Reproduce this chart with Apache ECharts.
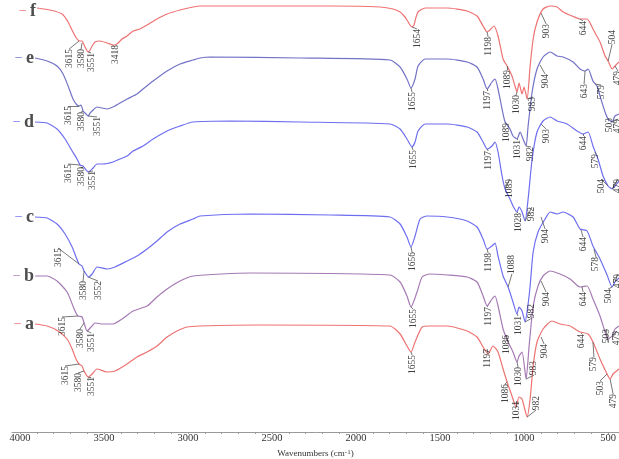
<!DOCTYPE html>
<html><head><meta charset="utf-8">
<script src="https://cdn.jsdelivr.net/npm/echarts@6/dist/echarts.min.js"></script>
<style>html,body{margin:0;padding:0;background:#fff}#chart{width:619px;height:459px}</style>
</head><body><div id="chart"></div>
<script>
// x: wavenumber (cm-1); y: transmittance (arbitrary units, traces offset)
const xTickLabels = [4000, 3500, 3000, 2500, 2000, 1500, 1000, 500];
const traceNames = ['a', 'b', 'c', 'd', 'e', 'f'];

const traceA = [[3911,108],[3839,106],[3774,101],[3720,93],[3690,83],[3667,73],[3649,68],[3631,66],[3619,61],[3595,55],[3571,58],[3542,63],[3482,60],[3435,61],[3363,68],[3304,75],[3244,80],[3185,86],[3125,95],[3066,101],[3006,105],[2929,106],[2572,107],[1798,106],[1738,98],[1697,86],[1673,80],[1649,90],[1607,105],[1560,106],[1458,106],[1339,101],[1280,95],[1244,85],[1214,78],[1185,86],[1155,80],[1125,63],[1101,50],[1072,36],[1048,25],[1030,35],[1012,33],[982,15],[964,33],[946,66],[923,90],[887,103],[834,111],[786,108],[726,106],[667,100],[619,98],[590,90],[548,73],[506,58],[488,53],[470,58],[435,63]];
const traceB = [[3911,156],[3839,156],[3780,151],[3720,140],[3685,126],[3667,119],[3655,116],[3631,115],[3619,109],[3601,101],[3577,105],[3554,109],[3506,108],[3446,108],[3393,113],[3327,121],[3244,126],[3185,135],[3125,143],[3048,151],[2970,156],[2631,159],[1798,157],[1738,150],[1697,136],[1673,125],[1637,140],[1607,155],[1560,158],[1458,157],[1339,155],[1280,150],[1244,136],[1220,126],[1191,133],[1173,136],[1155,126],[1125,103],[1095,90],[1066,80],[1042,70],[1030,76],[1012,80],[988,53],[970,86],[946,126],[917,146],[887,156],[845,161],[786,158],[726,153],[667,145],[625,146],[590,133],[548,116],[518,100],[500,93],[476,96],[459,103],[435,106]];
const traceC = [[3911,215],[3839,214],[3780,208],[3732,198],[3690,185],[3667,175],[3649,168],[3631,166],[3619,161],[3607,158],[3595,155],[3571,158],[3542,165],[3482,163],[3435,165],[3363,171],[3304,176],[3244,183],[3185,191],[3125,200],[3048,208],[2970,213],[2929,216],[2631,218],[2155,217],[1798,215],[1738,208],[1697,195],[1673,185],[1649,196],[1619,213],[1577,216],[1458,215],[1339,211],[1280,205],[1244,193],[1220,183],[1191,186],[1173,189],[1155,176],[1125,156],[1095,145],[1066,130],[1042,118],[1030,125],[1012,121],[994,110],[976,128],[964,146],[946,180],[917,200],[875,213],[845,220],[804,218],[768,220],[708,215],[667,203],[625,201],[590,186],[548,173],[506,157],[476,145],[459,150],[435,154]];
const traceD = [[3911,310],[3839,309],[3780,303],[3732,293],[3690,281],[3661,273],[3643,267],[3625,266],[3607,262],[3595,260],[3571,263],[3542,268],[3506,268],[3446,270],[3405,273],[3363,276],[3327,281],[3268,286],[3208,293],[3125,301],[3048,306],[2970,310],[2750,311],[2333,310],[1798,308],[1738,303],[1697,293],[1667,285],[1649,290],[1631,301],[1589,308],[1458,308],[1339,305],[1280,300],[1244,290],[1220,283],[1191,286],[1173,290],[1155,280],[1131,256],[1113,243],[1084,233],[1066,226],[1042,220],[1030,225],[1012,220],[994,211],[976,233],[952,273],[923,300],[887,311],[845,315],[804,311],[744,308],[685,301],[649,298],[619,300],[590,286],[560,273],[530,256],[500,246],[476,243],[459,246],[435,251]];
const traceE = [[3911,374],[3839,371],[3780,366],[3744,358],[3714,346],[3685,333],[3661,327],[3649,326],[3637,327],[3625,321],[3607,318],[3595,316],[3583,319],[3571,321],[3542,325],[3512,324],[3482,323],[3435,326],[3363,333],[3304,338],[3268,343],[3208,351],[3125,361],[3048,368],[2970,372],[2929,374],[2869,375],[2333,374],[1798,372],[1738,365],[1697,353],[1673,344],[1649,353],[1631,366],[1589,373],[1458,373],[1339,370],[1280,365],[1244,353],[1220,343],[1191,350],[1173,353],[1155,343],[1131,323],[1113,310],[1084,303],[1066,296],[1042,293],[1024,300],[1006,293],[988,286],[976,306],[952,340],[923,363],[887,375],[845,380],[804,376],[768,375],[708,370],[667,363],[637,361],[619,363],[590,351],[566,346],[548,336],[518,320],[500,313],[476,310],[459,316],[435,318]];
const traceF = [[3899,424],[3821,422],[3750,418],[3714,410],[3685,400],[3661,393],[3643,391],[3631,391],[3619,387],[3607,383],[3595,380],[3583,382],[3571,386],[3554,390],[3524,391],[3482,389],[3446,387],[3435,387],[3417,389],[3393,393],[3363,396],[3327,401],[3286,403],[3244,407],[3185,413],[3125,418],[3048,422],[2970,425],[2929,426],[2631,426],[2155,426],[1857,425],[1780,423],[1738,420],[1714,416],[1697,412],[1679,407],[1667,405],[1655,407],[1643,415],[1631,420],[1589,424],[1458,424],[1339,421],[1280,416],[1244,406],[1220,400],[1203,402],[1179,406],[1155,396],[1125,373],[1101,366],[1072,356],[1054,346],[1042,340],[1030,349],[1012,338],[1000,345],[982,333],[964,366],[946,393],[923,410],[887,423],[845,426],[804,425],[768,420],[714,416],[667,413],[625,413],[607,409],[590,403],[548,390],[518,376],[500,371],[476,363],[459,366],[435,370]];

// peak annotations: [label, peak wavenumber, peak value, label wavenumber, label top value]
const peaksA = [['3615',3649,68,3732,66],['3580',3619,61,3655,59],['3551',3595,55,3577,55],['1655',1673,80,1667,77],['1197',1214,78,1220,83],['1086',1101,50,1113,48],['1031',1048,25,1048,31],['982',982,15,929,36],['904',899,95,881,88],['644',655,99,661,98],['579',590,90,584,75],['503',506,58,548,51],['479',488,53,470,38]];
const peaksB = [['3615',3655,116,3750,115],['3580',3619,109,3643,103],['3551',3601,101,3577,99],['1655',1673,125,1661,123],['1197',1220,126,1214,125],['1086',1095,90,1107,97],['1030',1042,70,1036,65],['983',988,53,941,71],['904',899,151,869,140],['644',655,145,649,140],['503',500,90,512,103],['479',476,96,447,101]];
const peaksC = [['3615',3649,168,3774,184],['3580',3619,161,3625,151],['3552',3595,155,3536,151],['1656',1673,185,1667,180],['1198',1220,183,1214,179],['1088',1095,145,1072,177],['1031',1042,118,1036,116],['982',994,110,953,128],['904',899,215,875,203],['644',661,202,649,195],['578',584,183,572,175],['504',476,145,500,143],['479',459,150,441,158]];
const peaksD = [['3615',3643,267,3714,268],['3580',3625,265,3637,265],['3551',3595,260,3566,261],['1655',1667,285,1661,282],['1197',1220,283,1214,281],['1089',1113,243,1084,253],['1028',1042,220,1036,219],['982',994,211,953,225],['903',899,308,869,303],['644',649,298,649,296],['579',578,280,572,278],['504',500,246,542,253],['479',476,243,441,253]];
const peaksE = [['3615',3649,326,3714,326],['3580',3625,321,3637,320],['3551',3595,316,3542,315],['1655',1673,344,1667,340],['1197',1220,343,1220,341],['1089',1113,310,1107,309],['1031',1042,293,1042,292],['982',988,286,959,285],['904',905,367,875,358],['643',637,361,643,348],['579',578,348,542,347],['503',500,313,494,314],['479',476,310,441,313]];
const peaksF = [['3615',3649,391,3708,383],['3580',3631,389,3637,383],['3551',3595,380,3577,379],['3418',3429,387,3429,387],['1654',1667,405,1637,403],['1198',1220,400,1214,395],['1089',1101,366,1101,362],['1030',1042,340,1048,337],['983',982,333,947,335],['903',899,419,869,408],['644',667,413,649,411],['504',500,371,476,402],['479',459,366,441,361]];

const traces = [traceA, traceB, traceC, traceD, traceE, traceF];
const peaks = [peaksA, peaksB, peaksC, peaksD, peaksE, peaksF];
const colors = ['#ee7272', '#a67ab4', '#6e6ef0', '#6e6ef0', '#7272c6', '#ee7272'];
const letterOffsets = [0, 0, 0, 0, 0, 3];

const SERIF = "'Liberation Serif', 'DejaVu Serif', serif";
const PX_PER_CHAR = 4.7;

const series = [];
traces.forEach((tr, i) => {
  series.push({
    type: 'line', data: tr, showSymbol: false, smooth: 0.2, silent: true,
    lineStyle: { color: colors[i], width: 1.2 }, z: 2
  });
});
// trace letters
series.push({
  type: 'scatter', symbolSize: 0, silent: true, z: 5,
  data: traces.map((tr, i) => ({ value: tr[0], name: traceNames[i], itemStyle: { color: colors[i] },
    label: { offset: [0, letterOffsets[i]],
             rich: { d: { color: colors[i], fontSize: 12, padding: [0, 4, 0, 0] },
                     l: { color: '#222', fontSize: 18, fontWeight: 'bold', fontFamily: SERIF } } } })),
  label: { show: true, position: 'left', distance: 1, formatter: p => '{d|\u2013}{l|' + p.name + '}' }
});
// leader lines
const leaderData = [];
peaks.forEach(list => list.forEach(([t, pw, pt, lw, lt]) => {
  const len = t.length * PX_PER_CHAR;
  let endT;
  if (pt >= lt) endT = lt; else if (pt < lt - len) endT = lt - len; else endT = lt;
  leaderData.push({ coords: [[pw, pt], [lw, endT]] });
}));
series.push({
  type: 'lines', coordinateSystem: 'cartesian2d', polyline: false, silent: true, z: 3,
  data: leaderData, lineStyle: { color: '#555', width: 0.8, opacity: 1 }
});
// peak labels
const peakLabelData = [];
peaks.forEach(list => list.forEach(([t, pw, pt, lw, lt]) => peakLabelData.push([lw, lt, t])));
series.push({
  type: 'scatter', symbolSize: 0, silent: true, z: 4, data: peakLabelData,
  label: { show: true, position: 'inside', formatter: p => p.data[2], rotate: 90, align: 'right',
           verticalAlign: 'middle', fontFamily: SERIF, fontSize: 9.5, color: '#111' }
});

const minorTicks = [];
for (let v = 4000; v >= 500; v -= 100) minorTicks.push(v);

const chart = echarts.init(document.getElementById('chart'), null, { renderer: 'canvas' });
chart.setOption({
  animation: false,
  backgroundColor: '#fff',
  grid: { left: 12, right: 0, top: 0, bottom: 27, containLabel: false, outerBoundsMode: 'none' },
  xAxis: {
    type: 'value', inverse: true, min: 435, max: 4048,
    name: 'Wavenumbers (cm{sup|-1})', nameLocation: 'middle', nameGap: 10,
    nameTextStyle: { fontFamily: SERIF, fontSize: 9, color: '#333', verticalAlign: 'top', rich: { sup: { fontSize: 7, verticalAlign: 'top', padding: [0, 0, 3, 0], fontFamily: SERIF, color: '#333' } } },
    axisLine: { show: true, lineStyle: { color: '#999', width: 1 } },
    axisTick: { show: true, customValues: minorTicks, length: 2, lineStyle: { color: '#999' } },
    axisLabel: { customValues: xTickLabels, formatter: v => String(v), fontFamily: SERIF, fontSize: 10.5, color: '#333', margin: 1 },
    splitLine: { show: false }
  },
  yAxis: { type: 'value', min: 0, max: 432, show: false },
  series
});
</script></body></html>
